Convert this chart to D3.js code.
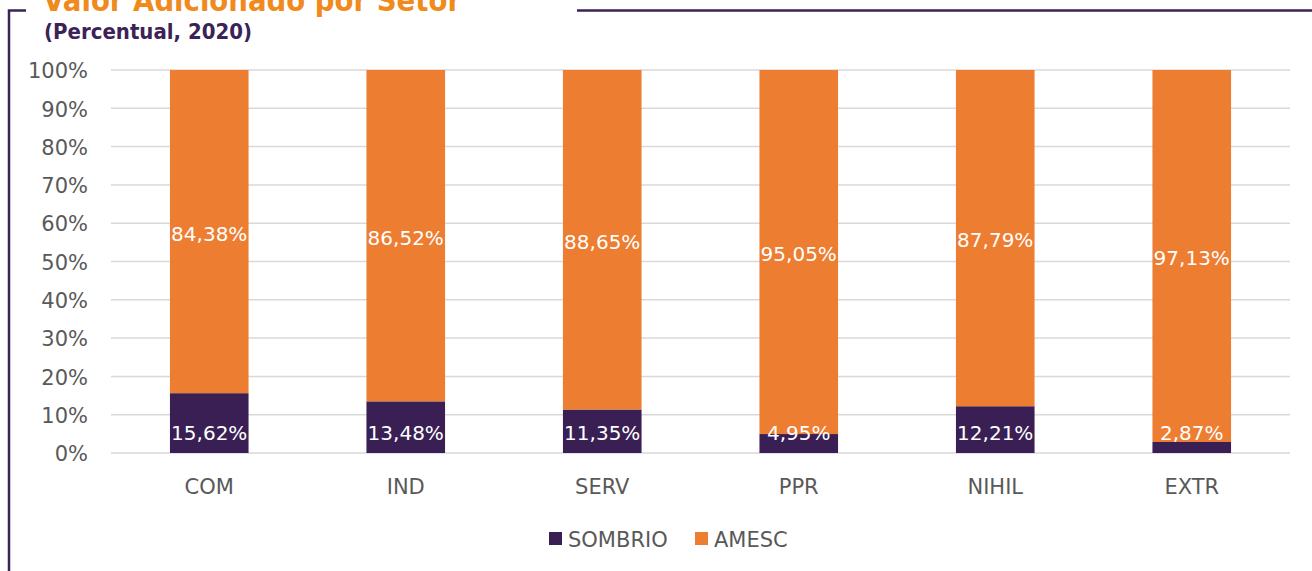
<!DOCTYPE html>
<html>
<head>
<meta charset="utf-8">
<script src="https://cdn.jsdelivr.net/npm/d3@7"></script>
<style>
  body { margin: 0; background: #fff; }
  svg { display: block; font-family: "DejaVu Sans", sans-serif; }
</style>
</head>
<body>
<svg id="chart" width="1312" height="571"></svg>
<script>
(function() {

  // sectors and shares (%)
  const sectors = ["COM", "IND", "SERV", "PPR", "NIHIL", "EXTR"];
  const sombrio = [15.62, 13.48, 11.35, 4.95, 12.21, 2.87];
  const amesc = [84.38, 86.52, 88.65, 95.05, 87.79, 97.13];
  const seriesNames = ["SOMBRIO", "AMESC"];
  const seriesColors = ["#3a1f55", "#ed7d31"];
  const yTicks = [0, 10, 20, 30, 40, 50, 60, 70, 80, 90, 100];

  const svg = d3.select("#chart");
  const frameColor = "#3b2357";
  const textGray = "#595959";

  // frame around the chart (top line broken by the title)
  svg.append("path")
    .attr("d", "M9,571 V10.5 H26 M577,10.5 H1312")
    .attr("fill", "none")
    .attr("stroke", frameColor)
    .attr("stroke-width", 2.5);

  // title, clipped by the top of the page like in the source
  svg.append("text")
    .attr("x", 43).attr("y", 11)
    .attr("fill", "#f08a1c")
    .attr("font-weight", "bold")
    .attr("font-size", 31)
    .attr("textLength", 418)
    .attr("lengthAdjust", "spacingAndGlyphs")
    .text("Valor Adicionado por Setor");

  svg.append("text")
    .attr("x", 44).attr("y", 39)
    .attr("fill", frameColor)
    .attr("font-weight", "bold")
    .attr("font-size", 21)
    .attr("textLength", 208)
    .attr("lengthAdjust", "spacingAndGlyphs")
    .text("(Percentual, 2020)");

  const x = d3.scaleBand()
    .domain(sectors)
    .range([111, 1290])
    .paddingInner(0.6)
    .paddingOuter(0.3);

  const y = d3.scaleLinear()
    .domain([0, 100])
    .range([453, 70]);

  // gridlines
  svg.append("g")
    .selectAll("line")
    .data(yTicks)
    .enter()
    .append("line")
    .attr("x1", 111).attr("x2", 1290)
    .attr("y1", d => y(d)).attr("y2", d => y(d))
    .attr("stroke", "#d9d9d9")
    .attr("stroke-width", 1.5);

  // y axis labels
  const yAxis = d3.axisLeft(y)
    .tickValues(yTicks)
    .tickFormat(d => d + "%")
    .tickSize(0)
    .tickPadding(0);
  const yg = svg.append("g")
    .attr("transform", "translate(88,1)")
    .call(yAxis);
  yg.select(".domain").remove();
  yg.selectAll("text")
    .attr("fill", textGray)
    .attr("font-size", 21)
    .attr("font-family", "DejaVu Sans, sans-serif");

  // stacked bars
  const rows = sectors.map((s, i) => ({ sector: s, SOMBRIO: sombrio[i], AMESC: amesc[i] }));
  const stacked = d3.stack().keys(seriesNames)(rows);

  svg.append("g")
    .selectAll("g")
    .data(stacked)
    .enter()
    .append("g")
    .attr("fill", (d, i) => seriesColors[i])
    .selectAll("rect")
    .data(d => d)
    .enter()
    .append("rect")
    .attr("x", d => x(d.data.sector))
    .attr("width", x.bandwidth())
    .attr("y", d => y(d[1]))
    .attr("height", d => y(d[0]) - y(d[1]));

  const fmt = v => v.toFixed(2).replace(".", ",") + "%";

  // data labels: SOMBRIO at inside base, AMESC centered
  const lbl = svg.append("g")
    .attr("fill", "#fff")
    .attr("font-size", 20)
    .attr("text-anchor", "middle");

  lbl.selectAll(".lbl-s")
    .data(stacked[0])
    .enter()
    .append("text")
    .attr("x", d => x(d.data.sector) + x.bandwidth() / 2)
    .attr("y", y(0) - 13)
    .text(d => fmt(d.data.SOMBRIO));

  lbl.selectAll(".lbl-a")
    .data(stacked[1])
    .enter()
    .append("text")
    .attr("x", d => x(d.data.sector) + x.bandwidth() / 2)
    .attr("y", d => (y(d[0]) + y(d[1])) / 2 + 9)
    .text(d => fmt(d.data.AMESC));

  // category labels
  const xAxis = d3.axisBottom(x).tickSize(0).tickPadding(0);
  const xg = svg.append("g")
    .attr("transform", "translate(0,494)")
    .call(xAxis);
  xg.select(".domain").remove();
  xg.selectAll("text")
    .attr("fill", textGray)
    .attr("font-size", 21)
    .attr("dy", 0)
    .attr("font-family", "DejaVu Sans, sans-serif");

  // legend
  const legendX = [549, 695];
  const legend = svg.append("g")
    .selectAll("g")
    .data(seriesNames)
    .enter()
    .append("g")
    .attr("transform", (d, i) => `translate(${legendX[i]},532)`);
  legend.append("rect")
    .attr("width", 13).attr("height", 13)
    .attr("fill", (d, i) => seriesColors[i]);
  legend.append("text")
    .attr("x", 19).attr("y", 15)
    .attr("fill", textGray)
    .attr("font-size", 21)
    .text(d => d);

})();
</script>
</body>
</html>
